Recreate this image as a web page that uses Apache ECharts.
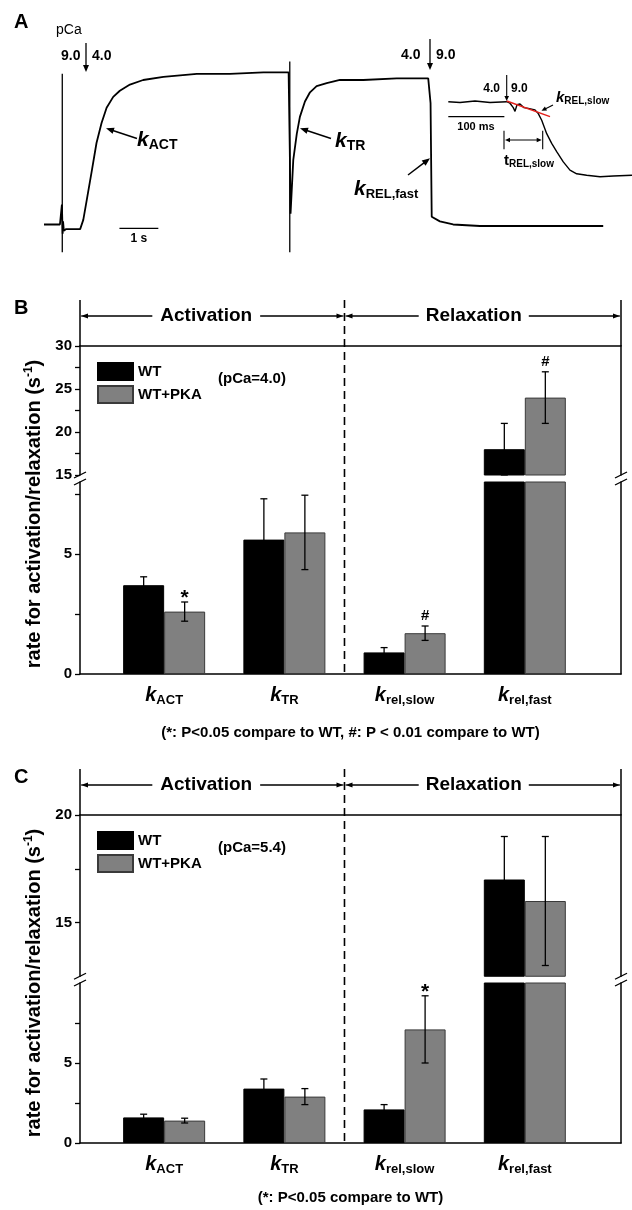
<!DOCTYPE html>
<html><head><meta charset="utf-8">
<script src="https://cdn.jsdelivr.net/npm/echarts@6/dist/echarts.min.js"></script>
<style>html,body{margin:0;padding:0;background:#fff}#c{width:632px;height:1210px}</style>
</head><body><div id="c"></div>
<script>
// ---------------- DATA ----------------
const categories = ['ACT', 'TR', 'rel,slow', 'rel,fast'];   // subscripts of k
const catX = [1, 2, 3, 4];
const seriesNames = ['WT', 'WT+PKA'];
// Panel B (pCa = 4.0)
const wtB = [3.7, 5.6, 0.9, 18.0];
const wtErrB = [0.35, 1.7, 0.2, 3.0];
const pkaB = [2.6, 5.9, 1.7, 24.0];
const pkaErrB = [0.4, 1.55, 0.3, 3.0];
const sigB = ['*', '', '#', '#'];
// Panel C (pCa = 5.4)
const wtC = [1.6, 3.4, 2.1, 17.0];
const wtErrC = [0.2, 0.6, 0.3, 2.0];
const pkaC = [1.4, 2.9, 7.1, 16.0];
const pkaErrC = [0.15, 0.5, 2.1, 3.0];
const sigC = ['', '', '*', ''];
// y tick labels / ticks of the broken axes
const bUpperLabels = [15, 20, 25, 30], bUpperTicks = [15, 17.5, 20, 22.5, 25, 27.5, 30];
const bLowerLabels = [0, 5], bLowerTicks = [0, 2.5, 5, 7.5];
const cUpperLabels = [15, 20], cUpperTicks = [15, 17.5, 20];
const cLowerLabels = [0, 5], cLowerTicks = [0, 2.5, 5, 7.5];
// Panel A: force trace (time s, normalised force)
const traceT = [0, 0.31, 0.41, 0.45, 0.46, 0.48, 0.49, 0.51, 0.57, 0.67, 0.80, 0.93, 0.97, 1.01, 1.10, 1.23, 1.35, 1.48, 1.61, 1.78, 1.95, 2.21, 2.55, 3.07, 3.93, 4.78, 5.64, 6.29, 6.32, 6.34, 6.41, 6.50, 6.58, 6.71, 6.84, 7.01, 7.27, 7.61, 8.21, 9.07, 9.88, 9.92, 9.94, 9.97, 10.01, 10.18, 10.52, 11.21, 12.92, 14.38];
const traceF = [0.01, 0.01, 0.01, 0.01, 0.14, -0.05, 0.03, -0.03, -0.02, -0.02, -0.02, -0.02, -0.01, 0.04, 0.17, 0.36, 0.54, 0.67, 0.77, 0.84, 0.88, 0.92, 0.95, 0.97, 0.99, 0.99, 1.00, 1.00, 0.50, 0.08, 0.43, 0.60, 0.71, 0.81, 0.87, 0.91, 0.93, 0.95, 0.95, 0.96, 0.96, 0.96, 0.80, 0.06, 0.05, 0.03, 0.01, 0.00, 0.00, 0.00];
const stimT = [0.47, 6.32];
const stimTop = [0.99, 1.07];
const stimBottom = -0.17;
const scaleBar1s = [1.94, 2.94], scaleBar1sF = -0.015;
// Panel A inset (time ms, normalised force)
const insetT = [0, 20.9, 47.6, 74.4, 104.2, 110, 115.9, 119, 122.5, 127.9, 135, 142.7, 154.6, 160.5, 166.6, 175.5, 184.4, 193.3, 205.1, 217, 229, 246.8, 270.6, 294.3, 327.6];
const insetF = [1.0, 0.99, 1.01, 0.99, 1.0, 0.98, 0.92, 0.87, 0.96, 0.97, 0.92, 0.91, 0.89, 0.84, 0.75, 0.57, 0.44, 0.33, 0.19, 0.08, 0.03, 0.01, -0.01, 0.0, 0.01];
const fitT = [104.2, 181.4], fitF = [1.01, 0.80];
const scaleBar100 = [0, 100], scaleBar100F = 0.80;

// ---------------- CHART ----------------
const FONT = '"Liberation Sans", Arial, Helvetica, sans-serif';
const BAR_W = 41;
const chart = echarts.init(document.getElementById('c'), null, {renderer: 'canvas', width: 632, height: 1210});
const grids = [], xAxes = [], yAxes = [], series = [];
function addGrid(g) { grids.push(Object.assign({containLabel: false, outerBoundsMode: 'none', show: false}, g)); return grids.length - 1; }
const axLine = {show: true, onZero: false, lineStyle: {color: '#000', width: 1.5}};
const noSplit = {show: false};

// ---- Panel A grids ----
const gA = addGrid({left: 44, top: 41.56, width: 560, height: 215.2});
const xA = xAxes.push({gridIndex: gA, type: 'value', min: 0, max: 14.4, show: false, splitLine: noSplit}) - 1;
const yA = yAxes.push({gridIndex: gA, type: 'value', min: -0.2, max: 1.2, show: false, splitLine: noSplit}) - 1;
const gI = addGrid({left: 448.3, top: 72, width: 183.9, height: 118.9});
const xI = xAxes.push({gridIndex: gI, type: 'value', min: 0, max: 328, show: false, splitLine: noSplit}) - 1;
const yI = yAxes.push({gridIndex: gI, type: 'value', min: -0.2, max: 1.4, show: false, splitLine: noSplit}) - 1;
const lineBase = {type: 'line', symbol: 'none', showSymbol: false, silent: true, animation: false};
series.push(Object.assign({}, lineBase, {xAxisIndex: xA, yAxisIndex: yA, data: traceT.map((t, i) => [t, traceF[i]]), lineStyle: {color: '#000', width: 1.8}}));
stimT.forEach((t, i) => series.push(Object.assign({}, lineBase, {xAxisIndex: xA, yAxisIndex: yA, data: [[t, stimBottom], [t, stimTop[i]]], lineStyle: {color: '#000', width: 1.3}})));
series.push(Object.assign({}, lineBase, {xAxisIndex: xA, yAxisIndex: yA, data: scaleBar1s.map(t => [t, scaleBar1sF]), lineStyle: {color: '#000', width: 1.3}}));
series.push(Object.assign({}, lineBase, {xAxisIndex: xI, yAxisIndex: yI, data: insetT.map((t, i) => [t, insetF[i]]), lineStyle: {color: '#000', width: 1.4}}));
series.push(Object.assign({}, lineBase, {xAxisIndex: xI, yAxisIndex: yI, data: fitT.map((t, i) => [t, fitF[i]]), lineStyle: {color: '#e3201b', width: 1.5}, z: 3}));
series.push(Object.assign({}, lineBase, {xAxisIndex: xI, yAxisIndex: yI, data: scaleBar100.map(t => [t, scaleBar100F]), lineStyle: {color: '#000', width: 1.3}}));

// ---- Bar panels ----
const catRich = {
  k: {fontSize: 20, fontWeight: 'bold', fontStyle: 'italic', fontFamily: FONT, color: '#000', lineHeight: 24, verticalAlign: 'middle'},
  s: {fontSize: 13, fontWeight: 'bold', fontFamily: FONT, color: '#000', lineHeight: 12, verticalAlign: 'bottom'}
};
function barPanel(segs, wt, wtErr, pka, pkaErr, sig) {
  const meta = {};
  segs.forEach(s => {
    const lower = s.min === 0;
    const gi = addGrid({left: 80, width: 541, top: s.top, height: s.height});
    const xi = xAxes.push({gridIndex: gi, type: 'value', min: 0.3, max: 4.8, position: lower ? 'bottom' : 'top',
      axisLine: axLine, axisTick: {show: false}, splitLine: noSplit,
      axisLabel: lower ? {show: true, customValues: catX, margin: 9,
        formatter: v => '{k|k}{s|' + categories[Math.round(v) - 1] + '}', rich: catRich} : {show: false}}) - 1;
    const yi = yAxes.push({gridIndex: gi, type: 'value', min: s.min, max: s.max, position: 'left',
      axisLine: axLine, splitLine: noSplit,
      axisTick: {show: true, inside: false, length: 5, customValues: s.ticks, lineStyle: {color: '#000', width: 1.3}},
      axisLabel: {show: true, customValues: s.labels, margin: 8, color: '#000', fontSize: 15, fontWeight: 'bold', fontFamily: FONT}}) - 1;
    yAxes.push({gridIndex: gi, type: 'value', min: s.min, max: s.max, position: 'right',
      axisLine: axLine, axisTick: {show: false}, axisLabel: {show: false}, splitLine: noSplit});
    const common = {type: 'bar', xAxisIndex: xi, yAxisIndex: yi, barWidth: BAR_W, barGap: '0%', clip: true, silent: true, animation: false};
    series.push(Object.assign({}, common, {name: seriesNames[0], data: catX.map((x, i) => [x, wt[i]]),
      itemStyle: {color: '#000', borderColor: '#000', borderWidth: 1}}));
    series.push(Object.assign({}, common, {name: seriesNames[1], data: catX.map((x, i) => [x, pka[i]]),
      itemStyle: {color: '#808080', borderColor: '#3a3a3a', borderWidth: 1}}));
    // error bars
    series.push({type: 'custom', xAxisIndex: xi, yAxisIndex: yi, silent: true, animation: false, z: 5,
      data: catX.map((x, i) => [x, wt[i], wtErr[i], pka[i], pkaErr[i]]), encode: {x: 0, y: 1},
      renderItem: (params, api) => {
        const x = api.value(0), ch = [];
        [[api.value(1), api.value(2), -1], [api.value(3), api.value(4), 1]].forEach(([v, e, side]) => {
          const hiV = v + e, loV = v - e;
          const a = Math.max(loV, s.min), b = Math.min(hiV, s.max);
          if (b <= a) return;
          const pa = api.coord([x, a]), pb = api.coord([x, b]);
          const cx = pa[0] + side * BAR_W / 2;
          ch.push({type: 'line', shape: {x1: cx, y1: pa[1], x2: cx, y2: pb[1]}, style: {stroke: '#000', lineWidth: 1.3}});
          [hiV, loV].forEach(cv => {
            if (cv >= s.min && cv <= s.max) {
              const py = api.coord([x, cv])[1];
              ch.push({type: 'line', shape: {x1: cx - 3.5, y1: py, x2: cx + 3.5, y2: py}, style: {stroke: '#000', lineWidth: 1.3}});
            }
          });
        });
        return {type: 'group', children: ch};
      }});
    // significance markers
    series.push({type: 'custom', xAxisIndex: xi, yAxisIndex: yi, silent: true, animation: false, z: 6, clip: false,
      data: catX.map((x, i) => [x, pka[i], pkaErr[i]]), encode: {x: 0, y: 1},
      renderItem: (params, api) => {
        const mark = sig[params.dataIndex];
        const top = api.value(1) + api.value(2);
        if (!mark || top < s.min || top > s.max) return {type: 'group', children: []};
        const p = api.coord([api.value(0), top]);
        const star = mark === '*';
        return {type: 'text', x: p[0] + BAR_W / 2, y: p[1] - (star ? 3.5 : 10),
          style: {text: mark, fill: '#000', fontSize: star ? 21 : 15, fontWeight: 'bold', fontFamily: FONT, align: 'center', verticalAlign: 'middle'}};
      }});
    meta[lower ? 'lower' : 'upper'] = {gi, xi, yi, min: s.min, max: s.max};
  });
  return meta;
}
const metaB = barPanel([
  {min: 15, max: 30, top: 346, height: 129, ticks: bUpperTicks, labels: bUpperLabels},
  {min: 0, max: 8, top: 482, height: 192, ticks: bLowerTicks, labels: bLowerLabels}
], wtB, wtErrB, pkaB, pkaErrB, sigB);
const metaC = barPanel([
  {min: 12.5, max: 20, top: 815, height: 161.25, ticks: cUpperTicks, labels: cUpperLabels},
  {min: 0, max: 10, top: 983, height: 160, ticks: cLowerTicks, labels: cLowerLabels}
], wtC, wtErrC, pkaC, pkaErrC, sigC);

const legendBase = {orient: 'vertical', left: 97, itemWidth: 35, itemHeight: 17, itemGap: 4, icon: 'rect', padding: 0,
  selectedMode: false, data: seriesNames, textStyle: {color: '#000', fontSize: 15, fontWeight: 'bold', fontFamily: FONT}};
chart.setOption({
  animation: false,
  backgroundColor: '#fff',
  grid: grids, xAxis: xAxes, yAxis: yAxes, series: series,
  legend: [Object.assign({}, legendBase, {top: 362}), Object.assign({}, legendBase, {top: 831})]
});

// ---------------- ANNOTATIONS ----------------
const T = (x, y, text, o) => ({type: 'text', x, y, silent: true, z: 50,
  style: Object.assign({text, fill: '#000', fontFamily: FONT, fontSize: 14, fontWeight: 'bold', align: 'left', verticalAlign: 'middle'}, o || {})});
const L = (x1, y1, x2, y2, o) => ({type: 'line', silent: true, z: 50, shape: {x1, y1, x2, y2}, style: Object.assign({stroke: '#000', lineWidth: 1.3}, o || {})});
function arrow(x1, y1, x2, y2, hl, hw, lw) {
  hl = hl || 7; hw = hw || 3; lw = lw || 1.3;
  const ang = Math.atan2(y2 - y1, x2 - x1);
  const bx = x2 - hl * Math.cos(ang), by = y2 - hl * Math.sin(ang);
  const px = -Math.sin(ang) * hw, py = Math.cos(ang) * hw;
  return [L(x1, y1, bx + (x2 - bx) * 0.3, by + (y2 - by) * 0.3, {lineWidth: lw}),
    {type: 'polygon', silent: true, z: 50, shape: {points: [[x2, y2], [bx + px, by + py], [bx - px, by - py]]}, style: {fill: '#000'}}];
}
const kRich = (ks, ss, lh) => ({
  k: {fontSize: ks, fontWeight: 'bold', fontStyle: 'italic', fontFamily: FONT, fill: '#000', lineHeight: lh, verticalAlign: 'middle'},
  s: {fontSize: ss, fontWeight: 'bold', fontFamily: FONT, fill: '#000', lineHeight: Math.round(ss * 0.95), verticalAlign: 'bottom'}
});
const g = [];
// Panel A
g.push(T(14, 22, 'A', {fontSize: 20}));
g.push(T(56, 30, 'pCa', {fontWeight: 'normal', fontSize: 14}));
g.push(T(80.5, 56, '9.0', {align: 'right'}), T(92, 56, '4.0'));
g.push(...arrow(86, 43, 86, 72, 7, 3));
g.push(T(420.5, 55, '4.0', {align: 'right'}), T(436, 55, '9.0'));
g.push(...arrow(430, 39, 430, 70, 7, 3));
g.push(...arrow(137, 138.5, 106, 128.3, 8, 3.2, 1.5));
g.push(T(137, 140, '{k|k}{s|ACT}', {rich: kRich(21, 14, 24)}));
g.push(...arrow(331, 138.5, 300, 128.3, 8, 3.2, 1.5));
g.push(T(335, 141, '{k|k}{s|TR}', {rich: kRich(21, 14, 24)}));
g.push(...arrow(408, 175, 430, 158.3, 8, 3.2, 1.5));
g.push(T(354, 189, '{k|k}{s|REL,fast}', {rich: kRich(21, 13, 24)}));
g.push(T(138.8, 239, '1 s', {align: 'center', fontSize: 12}));
g.push(T(500, 88.5, '4.0', {align: 'right', fontSize: 12}), T(511, 88.5, '9.0', {fontSize: 12}));
g.push(...arrow(506.7, 75, 506.7, 101, 5, 2.3, 1.1));
g.push(...arrow(553, 105, 541.5, 110.8, 5, 2.3, 1.1));
g.push(T(556, 98, '{k|k}{s|REL,slow}', {rich: kRich(15, 10, 17)}));
g.push(T(476, 127, '100 ms', {align: 'center', fontSize: 11}));
g.push(L(504, 130.7, 504, 149.3, {lineWidth: 1.1}), L(542.7, 130.7, 542.7, 149.3, {lineWidth: 1.1}));
g.push(...arrow(523, 140, 505, 140, 5, 2.2, 1), ...arrow(523, 140, 541.7, 140, 5, 2.2, 1));
g.push(T(504, 161, '{k|t}{s|REL,slow}', {rich: Object.assign(kRich(15, 10, 17), {k: {fontSize: 15, fontWeight: 'bold', fontFamily: FONT, fill: '#000', lineHeight: 17, verticalAlign: 'middle'}})}));

function decoPanel(meta, letter, pcaText, foot, footY) {
  const up = meta.upper, lo = meta.lower;
  const P = (m, pt) => chart.convertToPixel({xAxisIndex: m.xi, yAxisIndex: m.yi}, pt);
  const xl = P(up, [0.3, up.max])[0], xr = P(up, [4.8, up.max])[0], xm = P(up, [2.5, up.max])[0];
  const yTop = P(up, [0.3, up.max])[1], yUpBot = P(up, [0.3, up.min])[1];
  const yLoTop = P(lo, [0.3, lo.max])[1], yBot = P(lo, [0.3, 0])[1];
  const hTop = yTop - 46, aY = yTop - 30;
  g.push(L(xl, hTop, xl, yTop, {lineWidth: 1.5}), L(xr, hTop, xr, yTop, {lineWidth: 1.5}));
  g.push(L(xm, hTop, xm, yBot, {lineWidth: 1.6, lineDash: [8, 5]}));
  g.push(...arrow(xm - 1, aY, xl + 1, aY, 7, 2.5, 1.1), ...arrow(xl + 1, aY, xm - 1, aY, 7, 2.5, 1.1));
  g.push(...arrow(xr - 1, aY, xm + 1, aY, 7, 2.5, 1.1), ...arrow(xm + 1, aY, xr - 1, aY, 7, 2.5, 1.1));
  g.push(T((xl + xm) / 2 - 6, aY, 'Activation', {align: 'center', fontSize: 19, backgroundColor: '#fff', padding: [0, 8]}));
  g.push(T((xm + xr) / 2 - 9, aY, 'Relaxation', {align: 'center', fontSize: 19, backgroundColor: '#fff', padding: [0, 7]}));
  [xl, xr].forEach(x => {
    g.push(L(x - 6, yUpBot + 3, x + 6, yUpBot - 3, {lineWidth: 1.3}));
    g.push(L(x - 6, yLoTop + 3, x + 6, yLoTop - 3, {lineWidth: 1.3}));
  });
  g.push(T(14, hTop + 8, letter, {fontSize: 20}));
  g.push(T(34, (yTop + yBot) / 2 + 4, '{a|rate for activation/relaxation (s}{b|-1}{a|)}', {
    align: 'center',
    rich: {a: {fontSize: 20, fontWeight: 'bold', fontFamily: FONT, fill: '#000', lineHeight: 23, verticalAlign: 'middle'},
           b: {fontSize: 12, fontWeight: 'bold', fontFamily: FONT, fill: '#000', lineHeight: 12, verticalAlign: 'top'}}}));
  g[g.length - 1].rotation = Math.PI / 2;
  g.push(T(218, yTop + 33, pcaText, {fontSize: 15}));
  g.push(T((xl + xr) / 2, footY, foot, {align: 'center', fontSize: 15}));
}
decoPanel(metaB, 'B', '(pCa=4.0)', '(*: P<0.05 compare to WT, #: P < 0.01 compare to WT)', 733);
decoPanel(metaC, 'C', '(pCa=5.4)', '(*: P<0.05 compare to WT)', 1198);
chart.setOption({graphic: g});
</script></body></html>
